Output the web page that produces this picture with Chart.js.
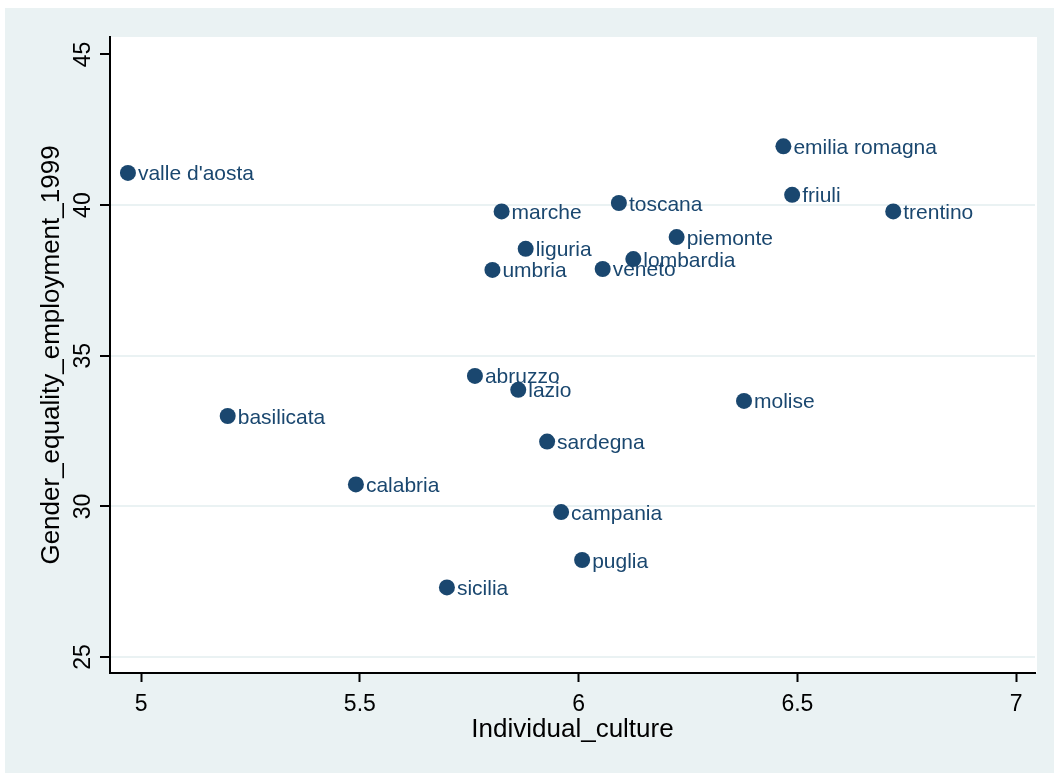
<!DOCTYPE html>
<html>
<head>
<meta charset="utf-8">
<script src="https://cdn.jsdelivr.net/npm/chart.js@4"></script>
<style>
  html, body { margin: 0; padding: 0; background: #fff; }
  canvas { display: block; }
</style>
</head>
<body>
<canvas id="myChart" width="1054" height="773"></canvas>
<script>
// regions of Italy
const regions = ['valle d\'aosta', 'emilia romagna', 'friuli', 'trentino', 'toscana',
  'marche', 'piemonte', 'liguria', 'lombardia', 'umbria', 'veneto', 'abruzzo',
  'lazio', 'molise', 'basilicata', 'sardegna', 'calabria', 'campania', 'puglia', 'sicilia'];
// Individual_culture
const culture = [4.970, 6.468, 6.488, 6.719, 6.092,
  5.824, 6.224, 5.879, 6.125, 5.803, 6.055, 5.763,
  5.862, 6.378, 5.198, 5.928, 5.491, 5.960, 6.008, 5.699];
// Gender_equality_employment_1999
const gender = [41.07, 41.95, 40.34, 39.79, 40.07,
  39.79, 38.94, 38.55, 38.21, 37.85, 37.88, 34.33,
  33.87, 33.50, 33.00, 32.15, 30.73, 29.81, 28.22, 27.31];

const xTicks = [5, 5.5, 6, 6.5, 7];
const yTicks = [25, 30, 35, 40, 45];

const navy = '#1a476f';
const bg = '#eaf2f3';

Chart.defaults.font.family = '"Liberation Sans", Arial, sans-serif';
Chart.defaults.color = '#000';

const backdrop = {
  id: 'backdrop',
  beforeDraw(chart) {
    const c = chart.ctx, a = chart.chartArea;
    c.save();
    c.fillStyle = '#fff';
    c.fillRect(0, 0, chart.width, chart.height);
    c.fillStyle = bg;
    c.fillRect(5, 8, chart.width - 5, chart.height - 8);
    c.fillStyle = '#fff';
    c.fillRect(a.left, a.top, a.right - a.left + 2, a.bottom - a.top);
    c.restore();
  }
};

// region names to the right of each marker
const pointLabels = {
  id: 'pointLabels',
  afterDatasetsDraw(chart) {
    const c = chart.ctx;
    const meta = chart.getDatasetMeta(0);
    c.save();
    c.font = '21px "Liberation Sans", Arial, sans-serif';
    c.fillStyle = navy;
    c.textAlign = 'left';
    c.textBaseline = 'alphabetic';
    meta.data.forEach((el, i) => {
      c.fillText(regions[i], el.x + 10, el.y + 7.5);
    });
    c.restore();
  }
};

const ctx = document.getElementById('myChart');

new Chart(ctx, {
  type: 'scatter',
  data: {
    datasets: [{
      data: culture.map((v, i) => ({ x: v, y: gender[i] })),
      backgroundColor: navy,
      borderWidth: 0,
      pointRadius: 8,
      pointHoverRadius: 8
    }]
  },
  options: {
    responsive: false,
    animation: false,
    events: [],
    layout: { padding: { left: 0, top: 37, right: 19, bottom: 0 } },
    scales: {
      x: {
        type: 'linear',
        min: 4.929,
        max: 7.043,
        afterFit: s => { s.height = 100; },
        afterBuildTicks: s => { s.ticks = xTicks.map(v => ({ value: v })); },
        border: { display: true, color: '#000', width: 2 },
        grid: { drawOnChartArea: false, drawTicks: true, tickLength: 9, tickColor: '#000', tickWidth: 2 },
        ticks: { font: { size: 23 }, padding: 9, maxRotation: 0, callback: v => String(v) },
        title: { display: true, text: 'Individual_culture', font: { size: 26 }, padding: { top: 0, bottom: 28 } }
      },
      y: {
        type: 'linear',
        min: 24.47,
        max: 45.58,
        afterFit: s => { s.width = 110; },
        afterBuildTicks: s => { s.ticks = yTicks.map(v => ({ value: v })); },
        border: { display: true, color: '#000', width: 2 },
        grid: {
          drawTicks: true,
          tickLength: 10,
          tickColor: '#000',
          tickWidth: 2,
          lineWidth: 2,
          color: c => (c.tick && c.tick.value === 45) ? 'rgba(0,0,0,0)' : bg
        },
        ticks: { font: { size: 23 }, padding: 4, minRotation: 90, maxRotation: 90, crossAlign: 'center', callback: v => String(v) },
        title: { display: true, text: 'Gender_equality_employment_1999', font: { size: 26 }, padding: { top: 36, bottom: 0 } }
      }
    },
    plugins: {
      legend: { display: false },
      tooltip: { enabled: false },
      title: { display: false }
    }
  },
  plugins: [backdrop, pointLabels]
});
</script>
</body>
</html>
